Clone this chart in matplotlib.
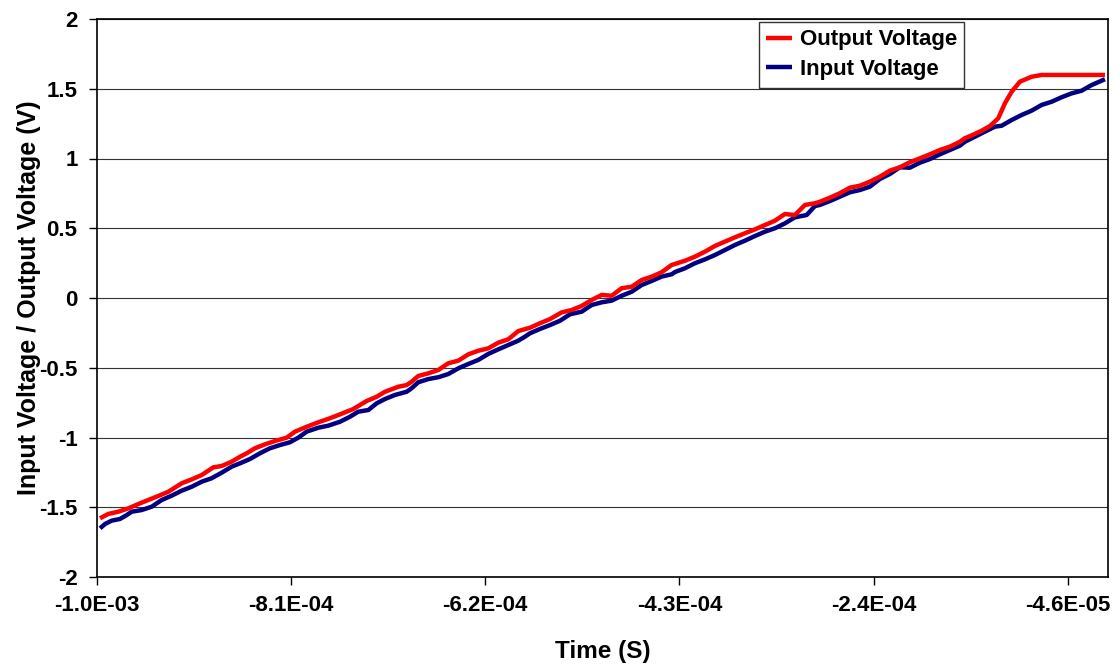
import matplotlib
matplotlib.use("Agg")
import matplotlib.pyplot as plt
import numpy as np
from matplotlib.ticker import FixedLocator, FuncFormatter

# Output voltage trace (time in microseconds, voltage in volts)
out_time_us = [
    -997.0, -988.9, -979.1, -969.2, -959.4, -949.6, -939.7, -929.9, -916.7, -906.9,
    -897.1, -885.7, -877.4, -867.6, -859.4, -852.8, -844.7, -834.9, -825.0, -813.5,
    -805.4, -793.9, -782.5, -771.0, -761.1, -748.1, -734.9, -725.1, -716.9, -710.3,
    -703.8, -695.6, -690.7, -684.2, -674.3, -664.5, -654.7, -644.8, -635.0, -625.2,
    -615.4, -605.5, -595.7, -585.9, -574.4, -564.6, -554.7, -543.2, -533.4, -523.6,
    -513.7, -503.9, -494.1, -484.3, -474.4, -464.6, -454.8, -445.1, -435.1, -431.9,
    -422.1, -412.3, -402.4, -392.6, -382.8, -372.9, -363.1, -353.3, -343.5, -333.6,
    -323.8, -314.0, -304.1, -294.3, -289.4, -279.6, -269.8, -259.9, -250.1, -240.3,
    -230.4, -220.6, -210.8, -201.0, -191.1, -181.3, -171.5, -161.6, -151.8, -146.9,
    -137.1, -130.5, -122.2, -114.1, -107.5, -100.9, -92.7, -81.3, -71.4, -48.5, -9.2,
]
out_volts = [
    -1.579, -1.548, -1.532, -1.508, -1.477, -1.448, -1.419, -1.389, -1.328, -1.300,
    -1.269, -1.214, -1.204, -1.173, -1.138, -1.113, -1.077, -1.049, -1.025, -1.001,
    -0.958, -0.923, -0.891, -0.862, -0.834, -0.796, -0.738, -0.708, -0.672, -0.654,
    -0.636, -0.624, -0.600, -0.559, -0.540, -0.516, -0.468, -0.449, -0.404, -0.378,
    -0.361, -0.320, -0.296, -0.237, -0.213, -0.181, -0.151, -0.103, -0.086, -0.057,
    -0.014, 0.022, 0.016, 0.070, 0.081, 0.129, 0.153, 0.184, 0.237, 0.244,
    0.267, 0.296, 0.332, 0.373, 0.404, 0.435, 0.464, 0.492, 0.523, 0.554,
    0.602, 0.595, 0.667, 0.679, 0.690, 0.719, 0.751, 0.791, 0.805, 0.834,
    0.870, 0.913, 0.937, 0.973, 1.001, 1.030, 1.061, 1.085, 1.120, 1.145,
    1.176, 1.199, 1.233, 1.288, 1.396, 1.479, 1.551, 1.586, 1.599, 1.599, 1.599,
]

# Input voltage trace
in_time_us = [
    -997.0, -992.1, -985.6, -977.4, -970.8, -965.9, -956.1, -946.2, -936.4, -926.6,
    -916.7, -906.9, -897.1, -887.3, -877.4, -867.6, -859.4, -849.6, -839.8, -829.9,
    -820.1, -810.3, -802.1, -793.9, -782.5, -772.6, -761.1, -751.3, -743.2, -733.3,
    -725.1, -716.9, -707.1, -695.6, -690.7, -684.2, -674.3, -664.5, -654.7, -644.8,
    -635.0, -625.2, -615.4, -605.5, -595.7, -585.9, -579.3, -574.4, -564.6, -554.7,
    -544.9, -535.1, -523.6, -513.7, -503.9, -494.1, -484.3, -474.4, -464.6, -454.8,
    -445.1, -435.1, -431.9, -422.1, -412.3, -402.4, -392.6, -382.8, -372.9, -363.1,
    -353.3, -343.5, -333.6, -323.8, -314.0, -302.4, -294.3, -289.4, -279.6, -269.8,
    -259.9, -250.1, -240.3, -230.4, -220.6, -210.8, -201.0, -191.1, -181.3, -171.5,
    -161.6, -151.8, -146.9, -137.1, -127.3, -117.4, -110.7, -100.9, -91.1, -81.3,
    -71.4, -61.6, -51.8, -41.9, -32.1, -22.2, -12.4, -9.2,
]
in_volts = [
    -1.651, -1.620, -1.596, -1.584, -1.556, -1.532, -1.520, -1.496, -1.448, -1.417,
    -1.381, -1.353, -1.317, -1.292, -1.252, -1.209, -1.185, -1.154, -1.113, -1.077,
    -1.054, -1.034, -1.001, -0.958, -0.930, -0.915, -0.887, -0.851, -0.815, -0.803,
    -0.755, -0.724, -0.695, -0.672, -0.647, -0.604, -0.581, -0.568, -0.545, -0.504,
    -0.473, -0.444, -0.401, -0.368, -0.337, -0.306, -0.277, -0.253, -0.222, -0.194,
    -0.163, -0.117, -0.098, -0.050, -0.031, -0.019, 0.016, 0.045, 0.093, 0.122,
    0.153, 0.170, 0.186, 0.213, 0.249, 0.277, 0.308, 0.344, 0.380, 0.411,
    0.444, 0.475, 0.500, 0.535, 0.578, 0.595, 0.659, 0.667, 0.695, 0.726,
    0.758, 0.774, 0.798, 0.853, 0.889, 0.937, 0.934, 0.970, 0.996, 1.030,
    1.061, 1.092, 1.120, 1.156, 1.192, 1.228, 1.235, 1.276, 1.312, 1.343,
    1.384, 1.407, 1.439, 1.467, 1.486, 1.527, 1.558, 1.568,
]

# Axis ticks
x_tick_times = [-1.0e-3, -8.092e-4, -6.183e-4, -4.275e-4, -2.367e-4, -4.58e-5]
y_ticks = [-2, -1.5, -1, -0.5, 0, 0.5, 1, 1.5, 2]

series_labels = ["Output Voltage", "Input Voltage"]

plt.rcParams["font.family"] = ["Liberation Sans", "DejaVu Sans"]
plt.rcParams["font.weight"] = "bold"

fig = plt.figure(figsize=(11.2, 6.65), dpi=100)
W, H = 1120, 665
ax = fig.add_axes([97 / W, 1 - 577 / H, (1108 - 97) / W, (577 - 19) / H])

t_out = np.array(out_time_us) * 1e-6
t_in = np.array(in_time_us) * 1e-6

ax.plot(t_out, out_volts, color="#FF0000", lw=3.2, solid_joinstyle="round",
        solid_capstyle="butt", label=series_labels[0], zorder=3)
ax.plot(t_in, in_volts, color="#000080", lw=3.2, solid_joinstyle="round",
        solid_capstyle="butt", label=series_labels[1], zorder=2)

ax.set_xlim(-1.0e-3, -6.2e-6)
ax.set_ylim(-2, 2)

ax.xaxis.set_major_locator(FixedLocator(x_tick_times))
ax.xaxis.set_major_formatter(FuncFormatter(lambda v, p: f"{v:.1E}"))
ax.yaxis.set_major_locator(FixedLocator(y_ticks))
ax.yaxis.set_major_formatter(FuncFormatter(lambda v, p: f"{v:g}"))

ax.grid(axis="y", color="#333333", lw=0.8, zorder=1)
ax.set_axisbelow(True)

for s in ax.spines.values():
    s.set_linewidth(1.2)
    s.set_color("black")

ax.tick_params(axis="both", direction="out", length=6, width=1.0, color="black",
               labelsize=16)
ax.tick_params(axis="x", pad=7)
ax.tick_params(axis="y", pad=8)

ax.set_xlabel("Time (S)", fontsize=17.5, fontweight="bold", labelpad=17)
ax.set_ylabel("Input Voltage / Output Voltage (V)", fontsize=18,
              fontweight="bold", labelpad=-1)

leg = ax.legend(loc="upper left", bbox_to_anchor=(759 / W, 1 - 22 / H),
                bbox_transform=fig.transFigure, borderaxespad=0,
                fontsize=16, frameon=True, fancybox=False, shadow=False,
                handlelength=1.15, handletextpad=0.35, labelspacing=0.4,
                borderpad=0.33)
leg.get_frame().set_edgecolor("black")
leg.get_frame().set_linewidth(1.0)
for t in leg.get_texts():
    t.set_fontweight("bold")

fig.savefig("out.png", dpi=100)
